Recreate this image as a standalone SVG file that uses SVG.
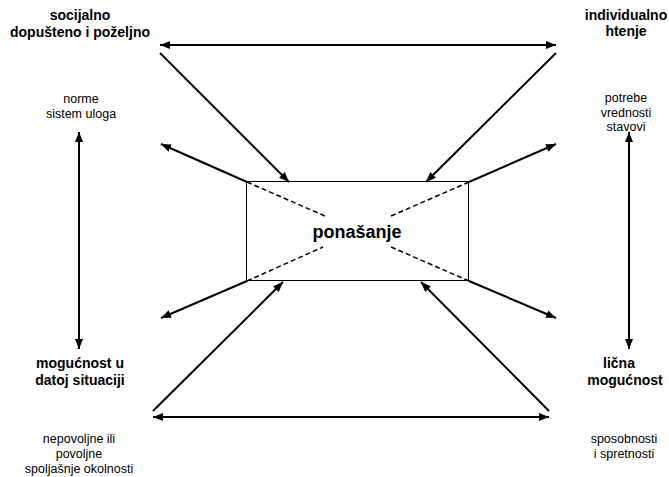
<svg xmlns="http://www.w3.org/2000/svg" width="669" height="477" viewBox="0 0 669 477">
<style>
.b{font-family:"Liberation Sans",Arial,sans-serif;font-weight:bold;font-size:14px;fill:#000;text-anchor:middle}
.r{font-family:"Liberation Sans",Arial,sans-serif;font-size:12.5px;fill:#000;text-anchor:middle}
.c{font-family:"Liberation Sans",Arial,sans-serif;font-weight:bold;font-size:18px;fill:#000;text-anchor:middle}
.l{stroke:#000;stroke-width:2;fill:none}
.d{stroke:#000;stroke-width:1.5;fill:none;stroke-dasharray:5,3}
</style>
<defs>
<marker id="ah" viewBox="0 0 10 8" refX="10" refY="4" markerWidth="10" markerHeight="8" markerUnits="userSpaceOnUse" orient="auto-start-reverse">
<path d="M0,0 L10,4 L0,8 Z" fill="#000"/>
</marker>
</defs>
<rect width="669" height="477" fill="#fff"/>
<g id="center">
<rect x="246.5" y="181.5" width="222" height="99" fill="#fff" stroke="#000" stroke-width="1"/>
<text class="c" x="357" y="238">ponašanje</text>
</g>
<g id="tl">
<text class="b" x="80" y="20">socijalno</text>
<text class="b" x="80" y="37">dopušteno i poželjno</text>
<text class="r" x="81" y="103">norme</text>
<text class="r" x="81" y="118">sistem uloga</text>
</g>
<g id="tr">
<text class="b" x="626" y="20">individualno</text>
<text class="b" x="626" y="36">htenje</text>
<text class="r" x="626" y="102">potrebe</text>
<text class="r" x="626" y="117">vrednosti</text>
<text class="r" x="626" y="131">stavovi</text>
</g>
<g id="bl">
<text class="b" x="80" y="368">mogućnost u</text>
<text class="b" x="80" y="385">datoj situaciji</text>
<text class="r" x="79" y="443">nepovoljne ili</text>
<text class="r" x="79" y="458">povoljne</text>
<text class="r" x="79" y="473">spoljašnje okolnosti</text>
</g>
<g id="br">
<text class="b" x="619" y="368">lična</text>
<text class="b" x="625" y="385">mogućnost</text>
<text class="r" x="624" y="443">sposobnosti</text>
<text class="r" x="624" y="458">i spretnosti</text>
</g>
<g id="connectors">
<line class="l" x1="160" y1="45" x2="556" y2="45" marker-start="url(#ah)" marker-end="url(#ah)"/>
<line class="l" x1="153" y1="417" x2="549" y2="417" marker-start="url(#ah)" marker-end="url(#ah)"/>
<line class="l" x1="79" y1="132" x2="79" y2="349" marker-start="url(#ah)" marker-end="url(#ah)"/>
<line class="l" x1="629" y1="132" x2="629" y2="349" marker-start="url(#ah)" marker-end="url(#ah)"/>
<line class="l" x1="160" y1="53" x2="289" y2="182" marker-end="url(#ah)"/>
<line class="l" x1="556" y1="53" x2="426" y2="182" marker-end="url(#ah)"/>
<line class="l" x1="153" y1="411" x2="283" y2="282" marker-end="url(#ah)"/>
<line class="l" x1="549" y1="411" x2="421" y2="282" marker-end="url(#ah)"/>
<line class="l" x1="247" y1="182" x2="161" y2="144" marker-end="url(#ah)"/>
<line class="l" x1="469" y1="182" x2="556" y2="144" marker-end="url(#ah)"/>
<line class="l" x1="247" y1="281" x2="161" y2="318" marker-end="url(#ah)"/>
<line class="l" x1="469" y1="281" x2="556" y2="318" marker-end="url(#ah)"/>
<line class="d" x1="247" y1="182" x2="325" y2="216"/>
<line class="d" x1="469" y1="182" x2="391" y2="216"/>
<line class="d" x1="247" y1="281" x2="323" y2="247"/>
<line class="d" x1="469" y1="281" x2="391" y2="247"/>
</g>
</svg>
